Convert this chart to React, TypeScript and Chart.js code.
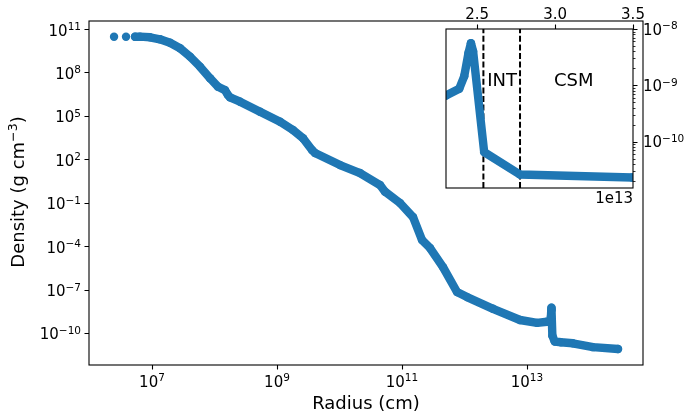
import React, { useEffect, useRef } from "react";
import { Chart, registerables } from "chart.js";

Chart.register(...registerables);

// ---- data ----
const radiusCm: number[] = [
  2.47e6, 3.84e6, 5.35e6, 6.43e6, 9.29e6, 1.34e7, 1.94e7, 2.81e7, 4.06e7, 5.86e7,
  8.47e7, 1.14e8, 1.47e8, 1.64e8, 1.77e8, 2.56e8, 5.35e8, 1.12e9, 1.8e9, 2.61e9,
  3.63e9, 4.06e9, 1.02e10, 2.13e10, 4.45e10, 5.35e10, 9.29e10, 1.5e11, 2.09e11, 2.81e11,
  4.53e11, 7.59e11, 1.1e12, 2.86e12, 7.73e12, 1.45e13, 2.09e13, 2.3e13, 2.385e13, 2.417e13,
  2.444e13, 2.46e13, 2.474e13, 2.545e13, 2.774e13, 3.494e13, 5.4e13, 1.14e14, 2.86e14,
];
const densityGcc: number[] = [
  2.95e10, 2.95e10, 2.95e10, 2.95e10, 2.69e10, 1.95e10, 1.12e10, 4.68e9, 1.23e9, 2.51e8,
  3.98e7, 1.02e7, 6.03e6, 2.75e6, 1.91e6, 9.55e5, 1.91e5, 3.89e4, 1.05e4, 2.82e3,
  437, 269, 39.8, 11.2, 1.66, 0.575, 0.0955, 0.0102, 2.63e-4, 7.41e-5,
  3.55e-6, 6.76e-8, 3.02e-8, 4.68e-9, 7.9e-10, 5.0e-10, 6.0e-10, 6.6e-10, 8.7e-10, 1.45e-9,
  3.7e-9, 5.6e-9, 4.0e-9, 6.5e-11, 2.6e-11, 2.3e-11, 1.95e-11, 1.05e-11, 7.8e-12,
];
const separateDots = 3; // first samples appear as separate markers

const xTickValues: number[] = [1e7, 1e9, 1e11, 1e13];
const xTickExponents: string[] = ["7", "9", "11", "13"];
const yTickValues: number[] = [1e11, 1e8, 1e5, 1e2, 1e-1, 1e-4, 1e-7, 1e-10];
const yTickExponents: string[] = ["11", "8", "5", "2", "\u22121", "\u22124", "\u22127", "\u221210"];

const insetXTickValues: number[] = [2.5e13, 3.0e13, 3.5e13];
const insetXTickLabels: string[] = ["2.5", "3.0", "3.5"];
const insetYTickValues: number[] = [1e-8, 1e-9, 1e-10];
const insetYTickExponents: string[] = ["\u22128", "\u22129", "\u221210"];
const regionBoundaries: number[] = [2.54e13, 2.775e13];
const regionNames: string[] = ["INT", "CSM"];
const regionLabelX: number[] = [2.66e13, 3.12e13];
const regionLabelY = 1.26e-9;

const MAIN_X = [Math.pow(10, 5.992), Math.pow(10, 14.856)];
const MAIN_Y = [Math.pow(10, -12.211), Math.pow(10, 11.553)];
const INSET_X = [2.3e13, 3.5e13];
const INSET_Y = [1.5e-11, 1e-8];

const BLUE = "#1f77b4";
const FONT = '"DejaVu Sans", sans-serif';
const W = 686;
const H = 419;

function drawPow(ctx: CanvasRenderingContext2D, exp: string, x: number, y: number, align: "left" | "right" | "center", size = 15) {
  const base = `${size}px ${FONT}`;
  const sup = `${(size * 0.7).toFixed(1)}px ${FONT}`;
  ctx.font = base;
  const wb = ctx.measureText("10").width;
  ctx.font = sup;
  const we = ctx.measureText(exp).width;
  const total = wb + we;
  const x0 = align === "right" ? x - total : align === "center" ? x - total / 2 : x;
  ctx.textAlign = "left";
  ctx.textBaseline = "alphabetic";
  ctx.fillStyle = "#000";
  ctx.font = base;
  ctx.fillText("10", x0, y);
  ctx.font = sup;
  ctx.fillText(exp, x0 + wb, y - 5.5);
}

const mainDecor = {
  id: "mainDecor",
  afterDraw(chart: any) {
    const ctx: CanvasRenderingContext2D = chart.ctx;
    const { left, right, top, bottom } = chart.chartArea;
    const xs = chart.scales.x;
    const ys = chart.scales.y;
    ctx.save();
    ctx.strokeStyle = "#000";
    ctx.lineWidth = 1.1;
    ctx.strokeRect(left, top, right - left, bottom - top);
    ctx.beginPath();
    xTickValues.forEach((v) => {
      const px = Math.round(xs.getPixelForValue(v)) + 0.5;
      ctx.moveTo(px, bottom);
      ctx.lineTo(px, bottom + 4.5);
    });
    yTickValues.forEach((v) => {
      const py = Math.round(ys.getPixelForValue(v)) + 0.5;
      ctx.moveTo(left, py);
      ctx.lineTo(left - 4.5, py);
    });
    ctx.stroke();
    xTickValues.forEach((v, i) => drawPow(ctx, xTickExponents[i], xs.getPixelForValue(v), bottom + 21.5, "center"));
    yTickValues.forEach((v, i) => drawPow(ctx, yTickExponents[i], left - 8, ys.getPixelForValue(v) + 6.5, "right"));

    // axis titles
    ctx.fillStyle = "#000";
    ctx.textBaseline = "alphabetic";
    ctx.font = `18px ${FONT}`;
    ctx.textAlign = "center";
    ctx.fillText("Radius (cm)", (left + right) / 2, 409);

    ctx.save();
    ctx.translate(24, (top + bottom) / 2 - 1);
    ctx.rotate(-Math.PI / 2);
    const p1 = "Density (g cm";
    const p2 = "\u22123";
    const p3 = ")";
    ctx.font = `18px ${FONT}`;
    const w1 = ctx.measureText(p1).width;
    const w3 = ctx.measureText(p3).width;
    ctx.font = `12.6px ${FONT}`;
    const w2 = ctx.measureText(p2).width;
    let x0 = -(w1 + w2 + w3) / 2;
    ctx.textAlign = "left";
    ctx.font = `18px ${FONT}`;
    ctx.fillText(p1, x0, 0);
    ctx.font = `12.6px ${FONT}`;
    ctx.fillText(p2, x0 + w1, -7);
    ctx.font = `18px ${FONT}`;
    ctx.fillText(p3, x0 + w1 + w2, 0);
    ctx.restore();
    ctx.restore();
  },
};

const insetDecor = {
  id: "insetDecor",
  beforeDraw(chart: any) {
    const ctx: CanvasRenderingContext2D = chart.ctx;
    const { left, right, top, bottom } = chart.chartArea;
    ctx.save();
    ctx.fillStyle = "#fff";
    ctx.fillRect(left, top, right - left, bottom - top);
    ctx.restore();
  },
  afterDraw(chart: any) {
    const ctx: CanvasRenderingContext2D = chart.ctx;
    const { left, right, top, bottom } = chart.chartArea;
    const xs = chart.scales.x;
    const ys = chart.scales.y;
    ctx.save();
    ctx.strokeStyle = "#000";
    ctx.lineWidth = 1.1;
    ctx.strokeRect(left, top, right - left, bottom - top);
    ctx.beginPath();
    insetXTickValues.forEach((v) => {
      const px = Math.round(xs.getPixelForValue(v)) + 0.5;
      ctx.moveTo(px, top);
      ctx.lineTo(px, top - 4.5);
    });
    insetYTickValues.forEach((v) => {
      const py = Math.round(ys.getPixelForValue(v)) + 0.5;
      ctx.moveTo(right, py);
      ctx.lineTo(right + 4.5, py);
    });
    ctx.stroke();
    // minor ticks
    ctx.beginPath();
    ctx.lineWidth = 0.8;
    for (let e = -11; e <= -9; e++) {
      for (let m = 2; m <= 9; m++) {
        const v = m * Math.pow(10, e);
        if (v < INSET_Y[0] || v > INSET_Y[1]) continue;
        const py = Math.round(ys.getPixelForValue(v)) + 0.5;
        ctx.moveTo(right, py);
        ctx.lineTo(right + 2.5, py);
      }
    }
    ctx.stroke();

    ctx.fillStyle = "#000";
    ctx.font = `15px ${FONT}`;
    ctx.textAlign = "center";
    ctx.textBaseline = "alphabetic";
    insetXTickValues.forEach((v, i) => ctx.fillText(insetXTickLabels[i], xs.getPixelForValue(v), top - 10.5));
    insetYTickValues.forEach((v, i) => drawPow(ctx, insetYTickExponents[i], right + 10, ys.getPixelForValue(v) + 5.8, "left"));

    ctx.font = `15px ${FONT}`;
    ctx.textAlign = "right";
    ctx.fillText("1e13", right, bottom + 15);

    ctx.font = `18px ${FONT}`;
    ctx.textAlign = "center";
    regionNames.forEach((name, i) => {
      ctx.fillText(name, xs.getPixelForValue(regionLabelX[i]), ys.getPixelForValue(regionLabelY) + 6.5);
    });
    ctx.restore();
  },
};

function profilePoints() {
  return radiusCm.map((r, i) => ({ x: r, y: densityGcc[i] }));
}

function profileDataset(clip: any) {
  return {
    label: "density",
    data: profilePoints(),
    showLine: true,
    borderColor: BLUE,
    backgroundColor: BLUE,
    borderWidth: 8.4,
    borderCapStyle: "round",
    borderJoinStyle: "round",
    pointRadius: 4.2,
    pointBorderWidth: 0,
    pointHoverRadius: 4.2,
    tension: 0,
    clip,
    segment: {
      borderColor: (c: any) => (c.p1DataIndex < separateDots ? "rgba(0,0,0,0)" : undefined),
    },
  };
}

export default function App() {
  const mainRef = useRef<HTMLCanvasElement>(null);
  const insetRef = useRef<HTMLCanvasElement>(null);

  useEffect(() => {
    document.body.style.margin = "0";
    const main = new Chart(mainRef.current as HTMLCanvasElement, {
      type: "scatter",
      data: { datasets: [profileDataset(0) as any] },
      options: {
        animation: false,
        responsive: false,
        events: [],
        layout: { padding: { left: 89, top: 21, right: W - 643, bottom: H - 365 } },
        plugins: { legend: { display: false }, tooltip: { enabled: false } },
        scales: {
          x: { type: "logarithmic", display: false, min: MAIN_X[0], max: MAIN_X[1], bounds: "data" },
          y: { type: "logarithmic", display: false, min: MAIN_Y[0], max: MAIN_Y[1], bounds: "data" },
        },
      },
      plugins: [mainDecor],
    });

    const dashed = regionBoundaries.map((b) => ({
      label: "boundary",
      data: [
        { x: b, y: INSET_Y[0] },
        { x: b, y: INSET_Y[1] },
      ],
      showLine: true,
      borderColor: "#000",
      borderWidth: 2,
      borderDash: [6, 2.6],
      pointRadius: 0,
      clip: 0,
    }));

    const inset = new Chart(insetRef.current as HTMLCanvasElement, {
      type: "scatter",
      data: { datasets: [profileDataset(0) as any, ...(dashed as any)] },
      options: {
        animation: false,
        responsive: false,
        events: [],
        layout: { padding: { left: 446, top: 29, right: W - 633, bottom: H - 188 } },
        plugins: { legend: { display: false }, tooltip: { enabled: false } },
        scales: {
          x: { type: "linear", display: false, min: INSET_X[0], max: INSET_X[1], bounds: "data" },
          y: { type: "logarithmic", display: false, min: INSET_Y[0], max: INSET_Y[1], bounds: "data" },
        },
      },
      plugins: [insetDecor],
    });

    return () => {
      main.destroy();
      inset.destroy();
    };
  }, []);

  return (
    <div style={{ position: "fixed", left: 0, top: 0, width: W, height: H, background: "#fff" }}>
      <canvas ref={mainRef} width={W} height={H} style={{ position: "absolute", left: 0, top: 0, width: W, height: H }} />
      <canvas ref={insetRef} width={W} height={H} style={{ position: "absolute", left: 0, top: 0, width: W, height: H }} />
    </div>
  );
}
